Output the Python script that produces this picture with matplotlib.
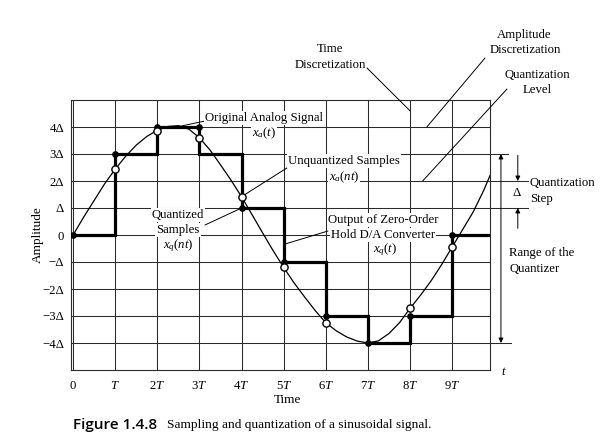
import matplotlib
matplotlib.use("Agg")
import matplotlib.pyplot as plt
from matplotlib.transforms import Affine2D

# ---------------- data ----------------
# analog signal x_a(t), sampled every 0.25 T
curve_t = [0, 0.25, 0.5, 0.75, 1.0, 1.25, 1.5, 1.75, 2.0, 2.25, 2.5, 2.75,
           3.0, 3.25, 3.5, 3.75, 4.0, 4.25, 4.5, 4.75, 5.0, 5.25, 5.5, 5.75,
           6.0, 6.25, 6.5, 6.75, 7.0, 7.25, 7.5, 7.75, 8.0, 8.25, 8.5, 8.75,
           9.0, 9.25, 9.5, 9.75, 9.9]
curve_x = [0.0, 0.66, 1.28, 1.9, 2.44, 2.92, 3.33, 3.65, 3.88, 4.02, 4.05, 3.92,
           3.6, 3.15, 2.6, 2.03, 1.42, 0.75, 0.08, -0.58, -1.2, -1.78, -2.3, -2.8,
           -3.25, -3.55, -3.78, -3.93, -4.0, -3.92, -3.65, -3.25, -2.72, -2.23, -1.7, -1.1,
           -0.45, 0.2, 0.85, 1.65, 2.2]
n_samples = [0, 1, 2, 3, 4, 5, 6, 7, 8, 9]
unquantized = [0.0, 2.44, 3.86, 3.58, 1.42, -1.2, -3.25, -4.0, -2.72, -0.45]
quantized = [0, 3, 4, 4, 1, -1, -3, -4, -3, 0]
hold_levels = [0, 3, 4, 3, 1, -1, -3, -4, -3, 0]
x_tick_labels = ["0", "$T$", "$2T$", "$3T$", "$4T$", "$5T$", "$6T$", "$7T$", "$8T$", "$9T$"]
y_levels = [4, 3, 2, 1, 0, -1, -2, -3, -4]
y_tick_labels = ["4Δ", "3Δ", "2Δ", "Δ", "0", "−Δ", "−2Δ", "−3Δ", "−4Δ"]
quantizer_range = (-4, 3)

# ---------------- style ----------------
SERIF = "Liberation Serif"
plt.rcParams["font.family"] = [SERIF, "DejaVu Serif"]
plt.rcParams["mathtext.fontset"] = "custom"
plt.rcParams["mathtext.rm"] = SERIF
plt.rcParams["mathtext.it"] = SERIF + ":italic"
plt.rcParams["mathtext.bf"] = SERIF + ":bold"

W, H = 605, 441
fig = plt.figure(figsize=(W / 100, H / 100), dpi=100)
PX = Affine2D().scale(1, -1).translate(0, H)   # reference pixel coords (top-left origin)

L, R, T_, B = 71, 490, 100, 370
ax = fig.add_axes([L / W, 1 - B / H, (R - L) / W, (B - T_) / H])
ax.set_xlim(-0.05, 9.90)
ax.set_ylim(-5, 5)

FS = 9.2
GRID_C = "#2a2a2a"
ax.set_xticks(n_samples)
ax.set_xticklabels(x_tick_labels, fontsize=FS)
ax.set_yticks(y_levels)
ax.set_yticklabels(y_tick_labels, fontsize=FS)
ax.tick_params(axis="both", length=0)
ax.tick_params(axis="x", pad=7.5)
ax.tick_params(axis="y", pad=5)
ax.grid(True, color=GRID_C, linewidth=0.75)
ax.set_axisbelow(True)
for s in ax.spines.values():
    s.set_color(GRID_C)
    s.set_linewidth(0.8)

# zero-order hold output
step_x = list(n_samples) + [ax.get_xlim()[1]]
step_y = list(hold_levels) + [hold_levels[-1]]
ax.step(step_x, step_y, where="post", color="black", linewidth=2.3, zorder=6,
        solid_joinstyle="miter")

# analog signal
ax.plot(curve_t, curve_x, color="black", linewidth=0.9, zorder=7)

# quantized samples (filled) and unquantized samples (open)
ax.plot(n_samples, quantized, "o", color="black", markersize=3.8, zorder=9)
oc_n = [n for n, u, q in zip(n_samples, unquantized, quantized) if abs(u - q) > 0.1]
oc_v = [u for u, q in zip(unquantized, quantized) if abs(u - q) > 0.1]
ax.plot(oc_n, oc_v, "o", markerfacecolor="white", markeredgecolor="black",
        markersize=5.2, markeredgewidth=1.0, zorder=10)

# ---------------- annotations ----------------
BOX = dict(facecolor="white", edgecolor="none", pad=0.6)

def label(x, y, s, ha="center", size=FS, box=True, **kw):
    fig.text(x, y, s, transform=PX, ha=ha, va="center", fontsize=size,
             bbox=BOX if box else None, zorder=5, **kw)

def leader(xy, xytext, xycoords="data"):
    ax.annotate("", xy=xy, xycoords=xycoords, xytext=xytext, textcoords=PX,
                arrowprops=dict(arrowstyle="-", color="black", linewidth=0.7,
                                shrinkA=0, shrinkB=0),
                annotation_clip=False, zorder=8)

label(264, 118, "Original Analog Signal")
label(264, 133, "$x_a(t)$")
leader((2.55, 4.03), (205, 121))

label(344, 161, "Unquantized Samples")
label(344, 177, "$x_a(nt)$")
leader((n_samples[4], unquantized[4]), (290, 166))

label(178, 215, "Quantized")
label(178, 230, "Samples")
label(178, 246, "$x_q(nt)$")
leader((n_samples[4], quantized[4]), (205, 225))

label(383, 220, "Output of Zero-Order")
label(383, 235, "Hold D/A Converter")
label(385, 250, "$x_q(t)$")
leader((5.0, -0.35), (328, 231))

label(330, 49, "Time", box=False)
label(330, 65, "Discretization", box=False)
leader((8.0, 4.6), (367, 68))

label(524, 35, "Amplitude", box=False)
label(525, 50, "Discretization", box=False)
leader((8.4, 4.0), (485, 58))

label(537, 75, "Quantization", box=False)
label(537, 90, "Level", box=False)
leader((8.3, 2.0), (507, 89))

# extensions of level lines beyond the grid
xr = ax.get_xlim()[1]
for lvl, xend in [(3, 10.33), (2, 10.8), (1, 10.8), (-4, 10.4)]:
    ax.plot([xr, xend], [lvl, lvl], color=GRID_C, linewidth=0.75, clip_on=False, zorder=1)

# quantization step arrows
arr = dict(arrowstyle="-|>", color="black", linewidth=0.7, mutation_scale=7,
           shrinkA=0, shrinkB=0)
ax.annotate("", xy=(10.56, 2), xytext=(10.56, 2.95), arrowprops=arr, annotation_clip=False)
ax.annotate("", xy=(10.56, 1), xytext=(10.56, 0.25), arrowprops=arr, annotation_clip=False)
label(517, 193, "Δ", box=False)
label(530, 183, "Quantization", ha="left", box=False)
label(530, 199, "Step", ha="left", box=False)

# range of the quantizer
arr2 = dict(arrowstyle="<|-|>", color="black", linewidth=0.7, mutation_scale=7,
            shrinkA=0, shrinkB=0)
ax.annotate("", xy=(10.16, quantizer_range[0]), xytext=(10.16, quantizer_range[1]),
            arrowprops=arr2, annotation_clip=False)
label(509, 253, "Range of the", ha="left", box=False)
label(509, 269, "Quantizer", ha="left", box=False)

label(504, 372, "$t$", box=False)
label(287, 400, "Time", box=False, size=9.5)
fig.text(38, 235, "Amplitude", transform=PX, ha="center", va="center",
         rotation=90, fontsize=9.5)

# caption
fig.text(73, 425, "Figure 1.4.8", transform=PX, ha="left", va="center",
         fontsize=11, family="Open Sans", weight="semibold")
fig.text(167, 425, "Sampling and quantization of a sinusoidal signal.", transform=PX,
         ha="left", va="center", fontsize=9.6)

fig.savefig("out.png", dpi=100, facecolor="white")
